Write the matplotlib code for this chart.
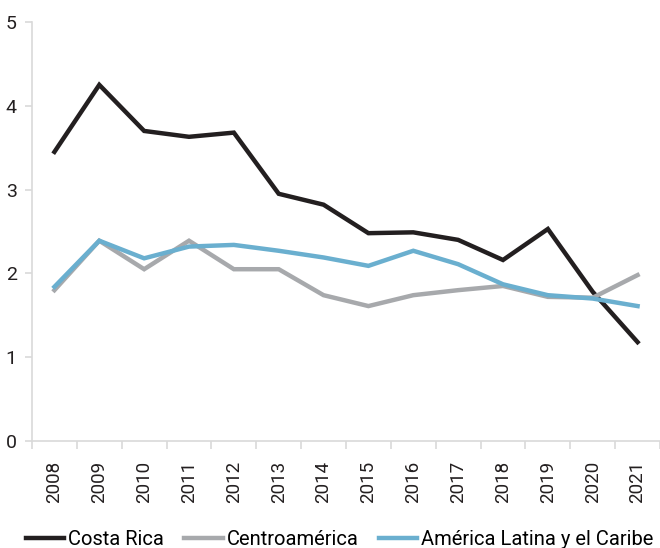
import matplotlib
matplotlib.use("Agg")
import matplotlib.pyplot as plt
import numpy as np

plt.rcParams['font.family'] = ['Roboto', 'DejaVu Sans']

years = ['2008', '2009', '2010', '2011', '2012', '2013', '2014',
         '2015', '2016', '2017', '2018', '2019', '2020', '2021']
costa_rica = [3.45, 4.25, 3.70, 3.63, 3.68, 2.95, 2.82,
              2.48, 2.49, 2.40, 2.16, 2.53, 1.78, 1.18]
centroamerica = [1.80, 2.39, 2.05, 2.39, 2.05, 2.05, 1.74,
                 1.61, 1.74, 1.80, 1.85, 1.72, 1.71, 1.98]
alc = [1.84, 2.39, 2.18, 2.32, 2.34, 2.27, 2.19,
       2.09, 2.27, 2.11, 1.87, 1.74, 1.70, 1.61]

fig = plt.figure(figsize=(6.6, 5.48), dpi=100)
ax = fig.add_axes([32/660, 107/548, 628/660, 419/548])

x = np.arange(len(years))
ax.plot(x, costa_rica, color='#231f20', lw=3.2, label='Costa Rica', solid_joinstyle='miter')
ax.plot(x, centroamerica, color='#a7a9ac', lw=3.2, label='Centroamérica', solid_joinstyle='miter')
ax.plot(x, alc, color='#6aafcf', lw=3.2, label='América Latina y el Caribe', solid_joinstyle='miter')

ax.set_xlim(-0.5, len(years) - 0.5)
ax.set_ylim(0, 5)
ax.set_yticks(range(6))
ax.set_xticks(x)
ax.set_xticklabels(years, rotation=90)
# ticks between categories
ax.set_xticks(np.arange(-0.5, len(years), 1), minor=True)
ax.tick_params(axis='x', which='major', length=0, pad=14, labelsize=13.5, colors='#231f20')
ax.tick_params(axis='x', which='minor', length=6, width=1.2, color='#d9d9d9')
ax.tick_params(axis='y', length=5, width=1.2, color='#d9d9d9', labelsize=14, labelcolor='#231f20', pad=6)

for s in ['top', 'right']:
    ax.spines[s].set_visible(False)
for s in ['left', 'bottom']:
    ax.spines[s].set_color('#d9d9d9')
    ax.spines[s].set_linewidth(1.2)

ax.legend(loc='lower center', bbox_to_anchor=(0.49, -0.3), ncol=3, frameon=False,
          fontsize=14.5, handlelength=1.9, handletextpad=0.2, columnspacing=1.0)

fig.savefig('out.png', dpi=100)
